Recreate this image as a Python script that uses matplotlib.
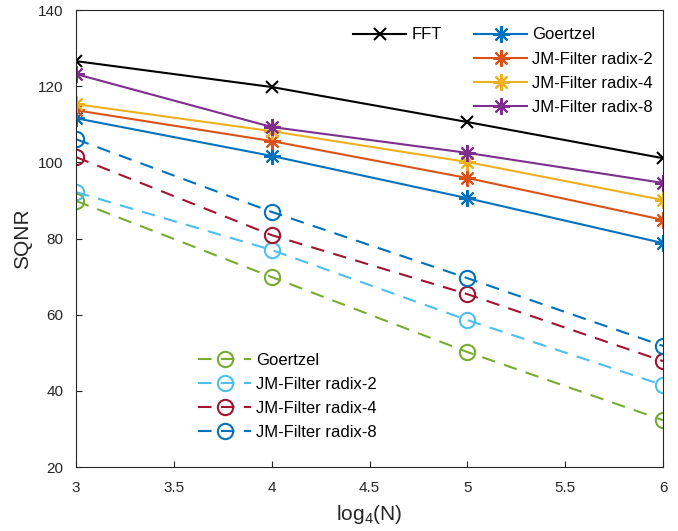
import numpy as np
import matplotlib.pyplot as plt

plt.rcParams['font.family'] = ['Liberation Sans', 'DejaVu Sans']
plt.rcParams['mathtext.fontset'] = 'custom'
plt.rcParams['mathtext.rm'] = 'Liberation Sans'

x = [3, 4, 5, 6]
fft = [126.6, 119.8, 110.6, 101.1]
goertzel = [111.6, 101.7, 90.6, 78.8]
jm2 = [113.7, 105.6, 95.9, 84.9]
jm4 = [115.3, 108.2, 100.1, 90.1]
jm8 = [123.2, 109.3, 102.5, 94.6]
goertzel_q = [89.9, 69.9, 50.2, 32.3]
jm2_q = [92.2, 77.0, 58.6, 41.5]
jm4_q = [101.4, 80.9, 65.4, 47.8]
jm8_q = [106.1, 87.0, 69.6, 51.8]
labels = ['Goertzel', 'JM-Filter radix-2', 'JM-Filter radix-4', 'JM-Filter radix-8']

c_blue = (0, 0.447, 0.741)
c_orange = (0.85, 0.325, 0.098)
c_yellow = (0.929, 0.694, 0.125)
c_purple = (0.494, 0.184, 0.556)
c_green = (0.466, 0.674, 0.188)
c_cyan = (0.301, 0.745, 0.933)
c_red = (0.635, 0.078, 0.184)
grey = (0.15, 0.15, 0.15)

fig = plt.figure(figsize=(6.78, 5.31), dpi=100)
ax = fig.add_axes([0.112, 0.1205, 0.866, 0.8605])

ast = (8, 2, 0)
h_fft, = ax.plot(x, fft, color='k', lw=1.5, marker='x', ms=9, mew=1.5)
hs = []
for y, c in zip([goertzel, jm2, jm4, jm8], [c_blue, c_orange, c_yellow, c_purple]):
    h, = ax.plot(x, y, color=c, lw=1.5, marker=ast, ms=12, mew=1.5)
    hs.append(h)
hq = []
for y, c in zip([goertzel_q, jm2_q, jm4_q, jm8_q], [c_green, c_cyan, c_red, c_blue]):
    h, = ax.plot(x, y, color=c, lw=1.5, ls='--', dashes=(6.5, 4.5), marker='o', ms=11,
                 mfc='none', mew=1.5)
    hq.append(h)

ax.set_xlim(3, 6)
ax.set_ylim(20, 140)
ax.set_xticks([3, 3.5, 4, 4.5, 5, 5.5, 6])
ax.set_xticklabels(['3', '3.5', '4', '4.5', '5', '5.5', '6'])
ax.set_yticks(np.arange(20, 141, 20))
ax.tick_params(direction='in', labelsize=11, colors=grey, length=4)
ax.tick_params(axis='x', pad=10)
ax.tick_params(axis='y', pad=9)
for s in ax.spines.values():
    s.set_color(grey)
    s.set_linewidth(0.8)
ax.set_xlabel(r'log$_4$(N)', fontsize=15, color=grey, labelpad=6)
ax.set_ylabel('SQNR', fontsize=15, color=grey, labelpad=4)

kw = dict(frameon=False, fontsize=12, handlelength=3.2, handletextpad=0.3,
          labelspacing=0.55, borderaxespad=0, borderpad=0)
leg1 = ax.legend([h_fft], ['FFT'], loc='upper left', bbox_to_anchor=(0.472, 0.962), **kw)
ax.add_artist(leg1)
leg2 = ax.legend(hs, labels, loc='upper left', bbox_to_anchor=(0.678, 0.962), **kw)
ax.add_artist(leg2)
ax.legend(hq, labels, loc='upper left', bbox_to_anchor=(0.208, 0.25), **kw)

fig.savefig('out.png', dpi=100)
